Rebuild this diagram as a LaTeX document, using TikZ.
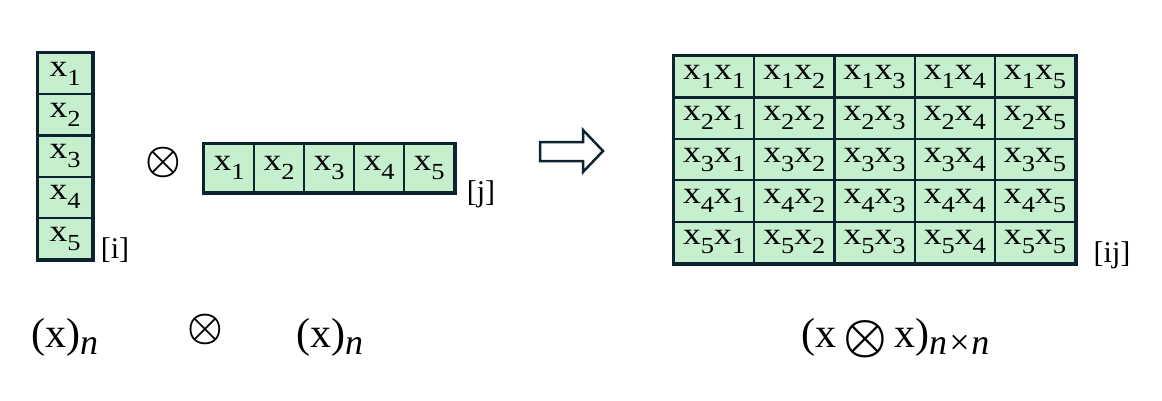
\documentclass[tikz,border=0pt]{standalone}
\usepackage{fontspec}
\setmainfont{Liberation Serif}
\usepackage{graphicx}
\definecolor{cellgreen}{RGB}{198,239,206}
\definecolor{edgecol}{RGB}{13,35,48}
\newcommand{\xv}[1]{\scalebox{1.15}[1]{x\raisebox{-9pt}{\fontsize{23}{23}\selectfont #1}}}
\newcommand{\otsym}[1]{\raisebox{-0.1em}{\scalebox{#1}{\fontsize{10}{12}\selectfont\boldmath$\otimes$}}}
\begin{document}
\begin{tikzpicture}[x=1pt,y=-1pt,
  cellbox/.style={draw=edgecol, line width=2.2pt, fill=cellgreen, inner sep=0pt,
    anchor=north west, font=\fontsize{31}{31}\selectfont},
  colcell/.style={cellbox, minimum width=54pt, minimum height=41.2pt},
  rowcell/.style={cellbox, minimum width=50pt, minimum height=48pt},
  matcell/.style={cellbox, minimum width=80.2pt, minimum height=41.4pt},
  outerbox/.style={draw=edgecol, line width=3pt},
  idx/.style={font=\fontsize{30}{30}\selectfont},
  otimes/.style={inner sep=0pt},
  biglabel/.style={anchor=base west, inner sep=0pt, font=\fontsize{42}{42}\selectfont}
]
\useasboundingbox (0,0) rectangle (1162,400);
\fill[white] (0,0) rectangle (1162,400);

% column vector
\foreach \i in {1,...,5}{
  \node[colcell] (c\i) at (37,{52+(\i-1)*41.2}) {\xv{\i}\hspace{10pt}};
}
\draw[outerbox] (c1.north west) rectangle (c5.south east);
\node[idx] (li) at (115,250) {[i]};

% otimes between vectors
\node[otimes] (op1) at (163,162) {\otsym{4.0}};

% row vector
\foreach \j in {1,...,5}{
  \node[rowcell] (r\j) at ({203+(\j-1)*50},143) {\xv{\j}};
}
\draw[outerbox] (r1.north west) rectangle (r5.south east);
\node[idx] (lj) at (481,194) {[j]};

% block arrow
\draw[edgecol, line width=2.5pt, line join=miter]
  (540,142) -- (583,142) -- (583,130) -- (603,151) -- (583,172) -- (583,161) -- (540,161) -- cycle;

% matrix
\foreach \i in {1,...,5}{
  \foreach \j in {1,...,5}{
    \node[matcell] (m\i\j) at ({673+(\j-1)*80.2},{55+(\i-1)*41.4}) {\xv{\i}\xv{\j}\hspace{6pt}};
  }
}
\draw[outerbox] (m11.north west) rectangle (m55.south east);
\node[idx] (lij) at (1112,255) {[ij]};

% bottom labels
\node[biglabel] (bx1) at (31,347) {(x)\raisebox{-7pt}{\fontsize{36}{36}\selectfont\itshape n}};
\node[otimes] (op2) at (205,329) {\otsym{4.0}};
\node[biglabel] (bx3) at (801,347) {(x\hspace{7pt}\otsym{4.9}\hspace{7pt}x)\raisebox{-7pt}{\fontsize{36}{36}\selectfont\itshape n×n}};
\node[biglabel] (bx2) at (296,347) {(x)\raisebox{-7pt}{\fontsize{36}{36}\selectfont\itshape n}};
\end{tikzpicture}
\end{document}
